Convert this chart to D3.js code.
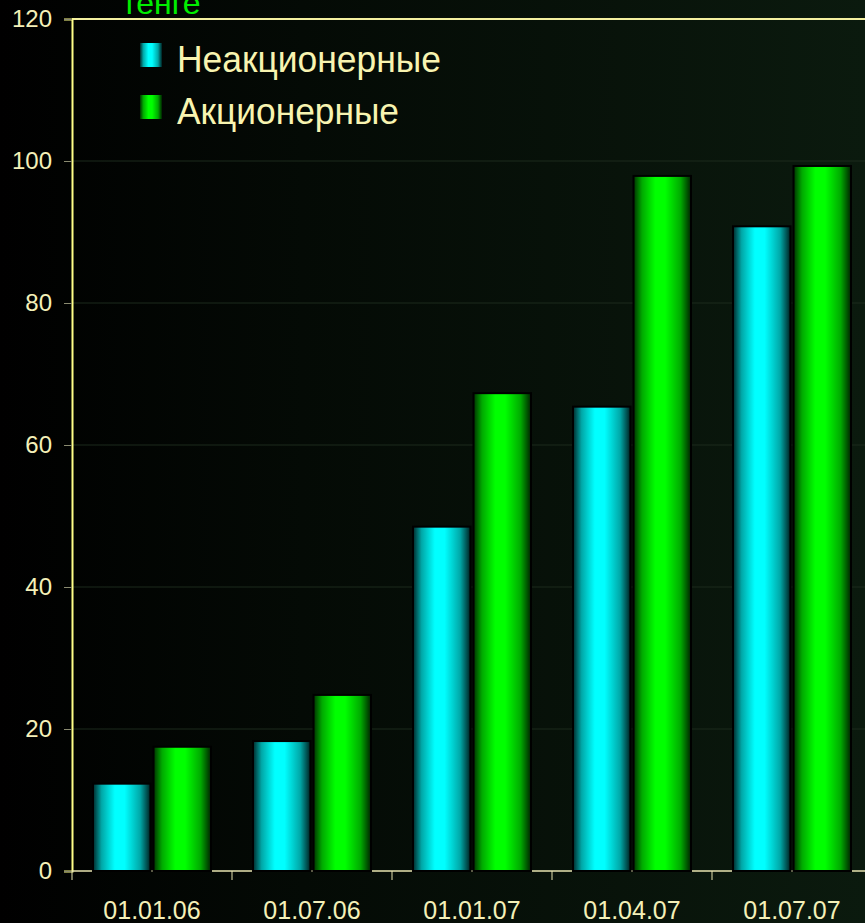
<!DOCTYPE html>
<html>
<head>
<meta charset="utf-8">
<script src="https://cdn.jsdelivr.net/npm/d3@7/dist/d3.min.js"></script>
<style>
  html, body { margin: 0; padding: 0; background: #000; }
  svg { display: block; }
  text { font-family: "Liberation Sans", Arial, sans-serif; }
</style>
</head>
<body>
<svg id="chart" width="865" height="923"></svg>
<script>
// Dates of the reporting periods
const categories = ["01.01.06", "01.07.06", "01.01.07", "01.04.07", "01.07.07"];
// Series names
const seriesNames = ["Неакционерные", "Акционерные"];
// Values, тенге
const nonJointStock = [12.3, 18.3, 48.5, 65.4, 90.8];
const jointStock    = [17.5, 24.8, 67.3, 97.9, 99.3];
const yTicks = [0, 20, 40, 60, 80, 100, 120];
const unitLabel = "тенге";

const W = 865, H = 923;
const plotLeft = 72, plotRight = 872, plotTop = 19, plotBottom = 871;

const svg = d3.select("#chart");
const defs = svg.append("defs");

// page background: black on the left fading to a dark green on the right
const bg = defs.append("linearGradient").attr("id", "bg")
  .attr("x1", "0").attr("y1", "0").attr("x2", "1").attr("y2", "0");
bg.append("stop").attr("offset", "0").attr("stop-color", "#000000");
bg.append("stop").attr("offset", "0.35").attr("stop-color", "#040a05");
bg.append("stop").attr("offset", "1").attr("stop-color", "#0b1a0e");
svg.append("rect").attr("width", W).attr("height", H).attr("fill", "url(#bg)");

// cylinder-like shading for the bars
function barGradient(id, dark, mid, bright, darkR) {
  const g = defs.append("linearGradient").attr("id", id)
    .attr("x1", "0").attr("y1", "0").attr("x2", "1").attr("y2", "0");
  g.append("stop").attr("offset", "0").attr("stop-color", dark);
  g.append("stop").attr("offset", "0.15").attr("stop-color", mid);
  g.append("stop").attr("offset", "0.38").attr("stop-color", bright);
  g.append("stop").attr("offset", "0.55").attr("stop-color", bright);
  g.append("stop").attr("offset", "0.82").attr("stop-color", mid);
  g.append("stop").attr("offset", "1").attr("stop-color", darkR);
}
barGradient("gCyan", "#002a2a", "#00a8a8", "#00ffff", "#002020");
barGradient("gGreen", "#003300", "#00aa00", "#00ff00", "#002200");

const x0 = d3.scaleBand().domain(categories).range([plotLeft, plotRight]).padding(0);
const x1 = d3.scaleBand().domain(seriesNames).range([21, 139]).paddingInner(0.05);
const y = d3.scaleLinear().domain([0, 120]).range([plotBottom, plotTop]);

// horizontal grid lines
svg.append("g")
  .selectAll("line")
  .data(yTicks.filter(v => v > 0 && v < 120))
  .join("line")
  .attr("x1", plotLeft).attr("x2", W)
  .attr("y1", d => y(d)).attr("y2", d => y(d))
  .attr("stroke", "#1c2a1c").attr("stroke-width", 1);

// top border of the plot area
svg.append("line")
  .attr("x1", plotLeft).attr("x2", W)
  .attr("y1", y(120)).attr("y2", y(120))
  .attr("stroke", "#f4f0a0").attr("stroke-width", 2);

// y axis
const yAxis = svg.append("g")
  .attr("transform", `translate(${plotLeft},0)`)
  .call(d3.axisLeft(y).tickValues(yTicks).tickSize(8).tickPadding(12).tickFormat(d3.format("d")));
yAxis.select(".domain").attr("stroke", "#ffff88").attr("stroke-width", 2);
yAxis.selectAll(".tick line").attr("stroke", "#8a8a70");
yAxis.selectAll(".tick text")
  .attr("fill", "#f4f0b8").attr("font-size", 24)
  .style("font-family", "'Liberation Sans', Arial, sans-serif");

// x axis line with ticks at the category boundaries
svg.append("line")
  .attr("x1", plotLeft).attr("x2", W)
  .attr("y1", plotBottom).attr("y2", plotBottom)
  .attr("stroke", "#e8e4b0").attr("stroke-width", 1.5);
svg.append("g").selectAll("line")
  .data(categories)
  .join("line")
  .attr("x1", d => x0(d)).attr("x2", d => x0(d))
  .attr("y1", plotBottom).attr("y2", plotBottom + 9)
  .attr("stroke", "#e8e4b0").attr("stroke-width", 1);

const xAxis = svg.append("g")
  .attr("transform", `translate(0,${plotBottom})`)
  .call(d3.axisBottom(x0).tickSize(0).tickPadding(30));
xAxis.select(".domain").remove();
xAxis.selectAll(".tick text")
  .attr("fill", "#f4f0b8").attr("font-size", 25)
  .style("font-family", "'Liberation Sans', Arial, sans-serif");

// bars
const rows = categories.map((c, i) => ({ cat: c, values: [nonJointStock[i], jointStock[i]] }));
const fills = ["url(#gCyan)", "url(#gGreen)"];
const groups = svg.append("g").selectAll("g")
  .data(rows)
  .join("g")
  .attr("transform", d => `translate(${x0(d.cat)},0)`);
groups.selectAll("rect")
  .data(d => d.values.map((v, k) => ({ name: seriesNames[k], v, k })))
  .join("rect")
  .attr("x", d => x1(d.name))
  .attr("width", x1.bandwidth())
  .attr("y", d => y(d.v))
  .attr("height", d => y(0) - y(d.v))
  .attr("fill", d => fills[d.k])
  .attr("stroke", "#000")
  .attr("stroke-width", 2);

// legend
const legend = svg.append("g");
const legendWidths = [264, 222];
seriesNames.forEach((name, k) => {
  const ly = 43 + k * 52;
  legend.append("rect")
    .attr("x", 140).attr("y", ly).attr("width", 22).attr("height", 24)
    .attr("fill", fills[k]);
  legend.append("text")
    .attr("x", 177).attr("y", ly + 29)
    .attr("fill", "#f8f4b0").attr("font-size", 36)
    .attr("textLength", legendWidths[k])
    .attr("lengthAdjust", "spacingAndGlyphs")
    .text(name);
});

// unit label at the very top
svg.append("text")
  .attr("x", 122).attr("y", 14)
  .attr("fill", "#00ee00").attr("font-size", 32)
  .text(unitLabel);
</script>
</body>
</html>
